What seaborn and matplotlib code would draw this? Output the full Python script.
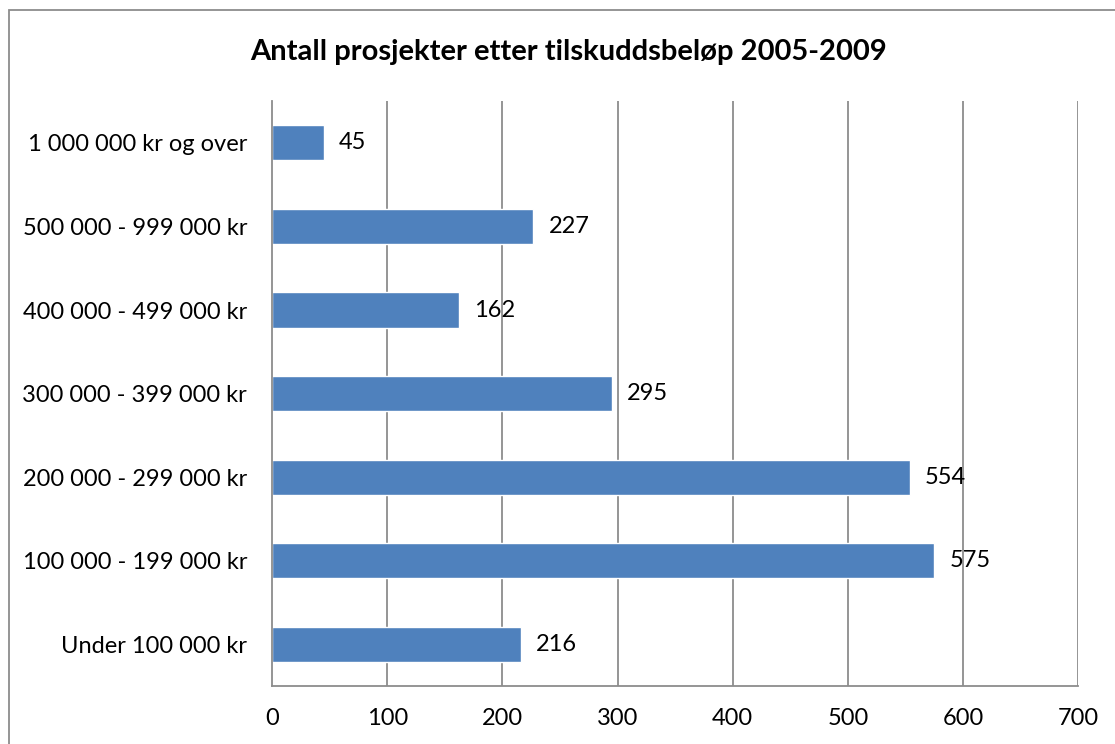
import matplotlib
matplotlib.use("Agg")
import matplotlib.pyplot as plt
import seaborn as sns
import pandas as pd
from matplotlib.patches import Rectangle

# -------------------Data --------------------
categories = ["1 000 000 kr og over", "500 000 - 999 000 kr", "400 000 - 499 000 kr",
              "300 000 - 399 000 kr", "200 000 - 299 000 kr", "100 000 - 199 000 kr",
              "Under 100 000 kr"]
counts = [45, 227, 162, 295, 554, 575, 216]
x_ticks = [0, 100, 200, 300, 400, 500, 600, 700]

df = pd.DataFrame({"kategori": categories, "antall": counts})

# -------------------Plot --------------------
sns.set_style("white")
plt.rcParams['font.family'] = ['Lato', 'DejaVu Sans']
plt.rcParams['text.color'] = 'black'
plt.rcParams['xtick.labelcolor'] = 'black'
plt.rcParams['ytick.labelcolor'] = 'black'

fig = plt.figure(figsize=(11.15, 7.44), dpi=100)
ax = fig.add_axes([0.244, 0.078, 0.723, 0.786])

grid_col = "#8c8c8c"
ax.set_axisbelow(True)
for t in x_ticks[1:]:
    ax.axvline(t, color=grid_col, lw=1.3, zorder=0)

sns.barplot(data=df, x="antall", y="kategori", order=categories, orient="h",
            color="#4f81bd", saturation=1, width=0.42, ax=ax, zorder=2)

# value labels next to each bar
for i, v in enumerate(counts):
    ax.text(v + 13, i, str(v), va="center", ha="left", fontsize=17, color="black")

ax.set_xlim(0, 700)
ax.set_ylim(6.5, -0.5)
ax.set_xticks(x_ticks)
ax.set_xticklabels([str(t) for t in x_ticks], fontsize=17)
ax.set_yticks(range(len(categories)))
ax.set_yticklabels(categories, fontsize=17)
ax.set_yticks([i - 0.5 for i in range(len(categories) + 1)], minor=True)
ax.tick_params(axis="y", which="major", length=0, pad=18)
ax.tick_params(axis="y", which="minor", length=6, color=grid_col, width=1.3, direction="out")
ax.tick_params(axis="x", length=6, color=grid_col, width=1.3, direction="out", pad=10)
ax.set_xlabel("")
ax.set_ylabel("")

for side in ["top", "right"]:
    ax.spines[side].set_visible(False)
for side in ["left", "bottom"]:
    ax.spines[side].set_color(grid_col)
    ax.spines[side].set_linewidth(1.3)

fig.text(0.51, 0.93, "Antall prosjekter etter tilskuddsbeløp 2005-2009",
         ha="center", va="center", fontsize=21, fontweight="bold", color="black")

# outer chart border (cut off at right and bottom)
fig.patches.append(Rectangle((9 / 1115, -0.1), 1.2, 1.1 - 10 / 744, transform=fig.transFigure,
                             fill=False, edgecolor=grid_col, lw=1.3))

fig.savefig("out.png", dpi=100)
